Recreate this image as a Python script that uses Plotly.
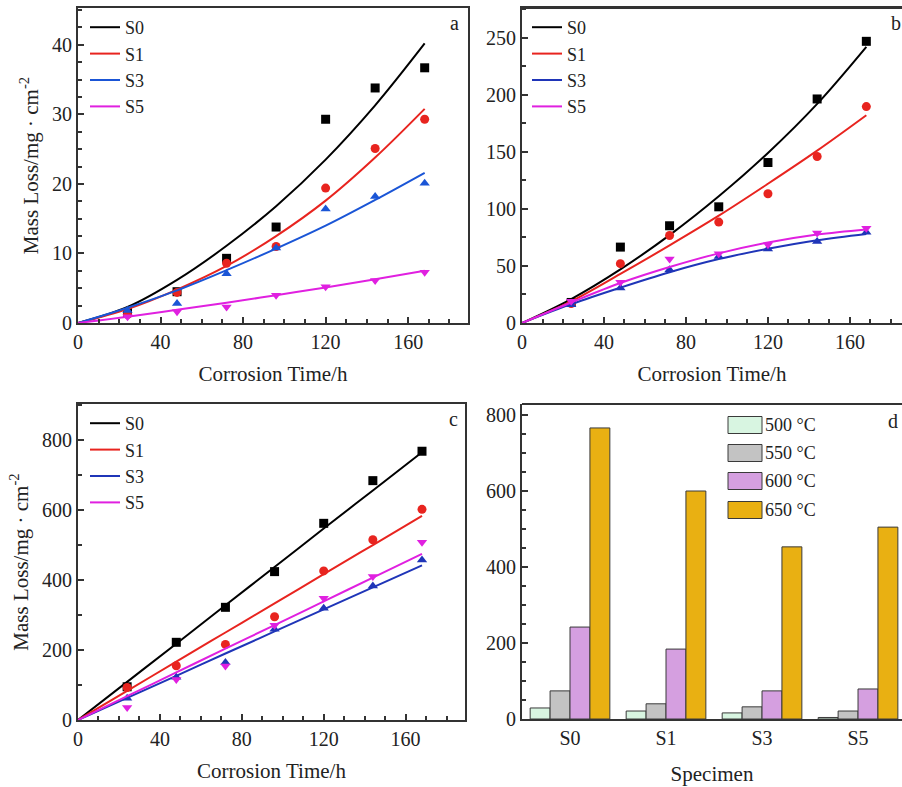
import plotly.graph_objects as go

# ---------------- data ----------------
t = [24, 48, 72, 96, 120, 144, 168]
t_fit = [0, 24, 48, 72, 96, 120, 144, 168]
specimens = ["S0", "S1", "S3", "S5"]

# panel a (500 °C) measured
a_S0 = [1.5, 4.5, 9.3, 13.8, 29.3, 33.8, 36.7]
a_S1 = [1.2, 4.4, 8.6, 11.0, 19.4, 25.1, 29.3]
a_S3 = [1.8, 2.8, 7.1, 10.8, 16.4, 18.2, 20.1]
a_S5 = [0.9, 1.6, 2.3, 4.0, 5.2, 6.1, 7.3]
# panel a fitted curves
a_fit_S0 = [0, 2.3, 6.2, 11.1, 16.8, 23.5, 31.3, 40.2]
a_fit_S1 = [0, 2.0, 4.8, 8.2, 12.5, 17.6, 23.8, 30.8]
a_fit_S3 = [0, 2.2, 4.7, 7.6, 10.7, 14.0, 17.7, 21.6]
a_fit_S5 = [0, 0.9, 1.9, 2.9, 4.0, 5.1, 6.3, 7.5]

# panel b (550 °C)
b_S0 = [18, 66.5, 85.2, 101.8, 140.6, 196.3, 246.8]
b_S1 = [17, 52, 76.7, 88.4, 113.2, 145.9, 189.6]
b_S3 = [16, 30.6, 46.7, 58.3, 64.8, 71.5, 79.6]
b_S5 = [19, 35.6, 56, 60.7, 68.6, 78.8, 83.1]
b_fit_S0 = [0, 21, 47, 77, 111, 149, 192, 242]
b_fit_S1 = [0, 19, 43, 68, 94, 122, 151, 182]
b_fit_S3 = [0, 16.5, 31, 44.5, 56, 65, 72.5, 78]
b_fit_S5 = [0, 18, 35, 49, 61, 70.5, 77.5, 82]

# panel c (600 °C)
c_S0 = [95, 222, 322, 424, 562, 684, 768]
c_S1 = [93, 155, 216, 295, 426, 515, 602]
c_S3 = [62, 122, 164, 259, 319, 383, 457]
c_S5 = [36, 116, 154, 271, 348, 410, 508]
c_fit_S0 = [0, 109, 218, 328, 437, 547, 656, 765]
c_fit_S1 = [0, 83, 167, 250, 333, 417, 500, 583]
c_fit_S3 = [0, 63, 126, 190, 253, 316, 379, 442]
c_fit_S5 = [0, 68, 136, 204, 271, 339, 407, 475]

# panel d (168 h mass loss by temperature)
temps = ["500 °C", "550 °C", "600 °C", "650 °C"]
d_500 = [29, 21, 16, 4]
d_550 = [74, 40, 32, 21]
d_600 = [242, 184, 74, 79]
d_650 = [766, 600, 453, 505]

# ---------------- styles ----------------
FONT = "Liberation Serif, Times New Roman, DejaVu Serif, serif"
TXT = "#222222"
AX = "#333333"
colors_a = {"S0": "#000000", "S1": "#e8241f", "S3": "#1a55d6", "S5": "#e020e0"}
colors_bc = {"S0": "#000000", "S1": "#e8241f", "S3": "#1f35b8", "S5": "#e020e0"}
symbols = {"S0": "square", "S1": "circle", "S3": "triangle-up", "S5": "triangle-down"}
bar_colors = ["#d8f5e1", "#c3c3c3", "#d59fe0", "#e9b012"]

# body margin is removed by post_script, figure fills the window
OFF = 0
W, H = 902, 787
def px(x):
    return (x - OFF) / W
def py(y):
    return 1 - (y - OFF) / H

fig = go.Figure()

panels = [
    ("a", "x", "y", "legend", colors_a,
     [a_S0, a_S1, a_S3, a_S5], [a_fit_S0, a_fit_S1, a_fit_S3, a_fit_S5]),
    ("b", "x2", "y2", "legend2", colors_bc,
     [b_S0, b_S1, b_S3, b_S5], [b_fit_S0, b_fit_S1, b_fit_S3, b_fit_S5]),
    ("c", "x3", "y3", "legend3", colors_bc,
     [c_S0, c_S1, c_S3, c_S5], [c_fit_S0, c_fit_S1, c_fit_S3, c_fit_S5]),
]

for tag, xa, ya, lg, cols, meas, fits in panels:
    for i, s in enumerate(specimens):
        fig.add_trace(go.Scatter(
            x=t_fit, y=fits[i], mode="lines", name=s, xaxis=xa, yaxis=ya,
            line=dict(color=cols[s], width=2, shape="spline"),
            legend=lg, legendgroup=tag + s, showlegend=True))
        fig.add_trace(go.Scatter(
            x=t, y=meas[i], mode="markers", name=s, xaxis=xa, yaxis=ya,
            marker=dict(color=cols[s], symbol=symbols[s], size=9),
            showlegend=False, cliponaxis=False))

for vals, name, col in zip([d_500, d_550, d_600, d_650], temps, bar_colors):
    fig.add_trace(go.Bar(
        x=specimens, y=vals, name=name, xaxis="x4", yaxis="y4",
        marker=dict(color=col, line=dict(color="#3a3a3a", width=1)),
        showlegend=False))

# ---------------- axes ----------------
tickfont = dict(family=FONT, size=20, color=TXT)
titlefont = dict(family=FONT, size=21, color=TXT)

def time_axis(domain, anchor, right_cut=None):
    rng = [0, 189] if right_cut is None else [0, right_cut]
    return dict(domain=domain, anchor=anchor, range=rng,
                tick0=0, dtick=40,
                ticks="inside", ticklen=6, tickwidth=1.5, tickcolor=AX,
                minor=dict(dtick=10, ticks="inside", ticklen=4, tickcolor=AX, tickwidth=1.5),
                showline=True, linecolor=AX, linewidth=2, mirror=True,
                showgrid=False, zeroline=False, tickfont=tickfont,
                title=dict(text="Corrosion Time/h", font=titlefont, standoff=14),
                automargin=False)

def val_axis(domain, anchor, rng, dtick, minor, title=None, mirror=True):
    d = dict(domain=domain, anchor=anchor, range=rng, dtick=dtick,
             ticks="inside", ticklen=6, tickwidth=1.5, tickcolor=AX,
             minor=dict(dtick=minor, ticks="inside", ticklen=4, tickcolor=AX, tickwidth=1.5),
             showline=True, linecolor=AX, linewidth=2, mirror=mirror,
             showgrid=False, zeroline=False, tickfont=tickfont,
             automargin=False)
    if title:
        d["title"] = dict(text=title, font=titlefont, standoff=8)
    return d

ytitle = "Mass Loss/mg · cm<sup>-2</sup>"

xa_dom = [px(78), px(468)]
xb_dom = [px(522), 1.0]
ytop_dom = [py(323), py(8)]
ybot_dom = [py(720), py(404)]

fig.update_layout(
    xaxis=time_axis(xa_dom, "y"),
    yaxis=val_axis(ytop_dom, "x", [0, 45.3], 10, 2.5, ytitle),
    xaxis2=time_axis(xb_dom, "y2", right_cut=185.4),
    yaxis2=val_axis(ytop_dom, "x2", [0, 276], 50, 25, mirror=False),
    xaxis3=time_axis([px(78), px(465)], "y3"),
    yaxis3=val_axis(ybot_dom, "x3", [0, 903], 200, 100, ytitle),
    xaxis4=dict(domain=xb_dom, anchor="y4", range=[-0.5, 3.458],
                showline=True, linecolor=AX, linewidth=2, mirror=False,
                ticks="", showgrid=False, zeroline=False, tickfont=tickfont,
                title=dict(text="Specimen", font=titlefont, standoff=18),
                automargin=False),
    yaxis4=val_axis([py(719), py(404)], "x4", [0, 829], 200, 50, mirror=False),
    barmode="group", bargap=0.17, bargroupgap=0,
)

# top frame lines for b and d (right side is cut off in the reference)
for y in [8, 404]:
    fig.add_shape(type="line", xref="paper", yref="paper",
                  x0=px(522), x1=1.0, y0=py(y), y1=py(y),
                  line=dict(color=AX, width=2))

# legends for a, b, c
def legend_cfg(x, y):
    return dict(x=x, y=y, xanchor="left", yanchor="top",
                bgcolor="rgba(0,0,0,0)", borderwidth=0,
                font=dict(family=FONT, size=18, color=TXT),
                tracegroupgap=0, itemwidth=30)

fig.update_layout(
    legend=legend_cfg(px(85), py(9)),
    legend2=legend_cfg(px(527), py(9)),
    legend3=legend_cfg(px(85), py(405)),
)

# legend for panel d (boxes + labels)
legend_rows = [425, 453, 481, 510]
for yc, name, col in zip(legend_rows, temps, bar_colors):
    fig.add_shape(type="rect", xref="paper", yref="paper",
                  x0=px(728), x1=px(762), y0=py(yc + 8.5), y1=py(yc - 8.5),
                  fillcolor=col, line=dict(color="#3a3a3a", width=1))
    fig.add_annotation(text=name, xref="paper", yref="paper",
                       x=px(763), y=py(yc), xanchor="left", yanchor="middle",
                       showarrow=False, font=dict(family=FONT, size=18, color=TXT))

# panel letters
for letter, x, y in [("a", 455, 23), ("b", 896, 23), ("c", 453, 419), ("d", 893, 421)]:
    fig.add_annotation(text=letter, xref="paper", yref="paper", x=px(x), y=py(y),
                       xanchor="center", yanchor="middle", showarrow=False,
                       font=dict(family=FONT, size=20, color=TXT))

fig.update_layout(
    width=W, height=H,
    margin=dict(l=0, r=0, t=0, b=0),
    paper_bgcolor="white", plot_bgcolor="white",
    font=dict(family=FONT, color=TXT),
)

fig.write_html(
    "out.html",
    config={"displayModeBar": False},
    post_script="document.body.style.margin='0';document.body.style.overflow='hidden';",
)
